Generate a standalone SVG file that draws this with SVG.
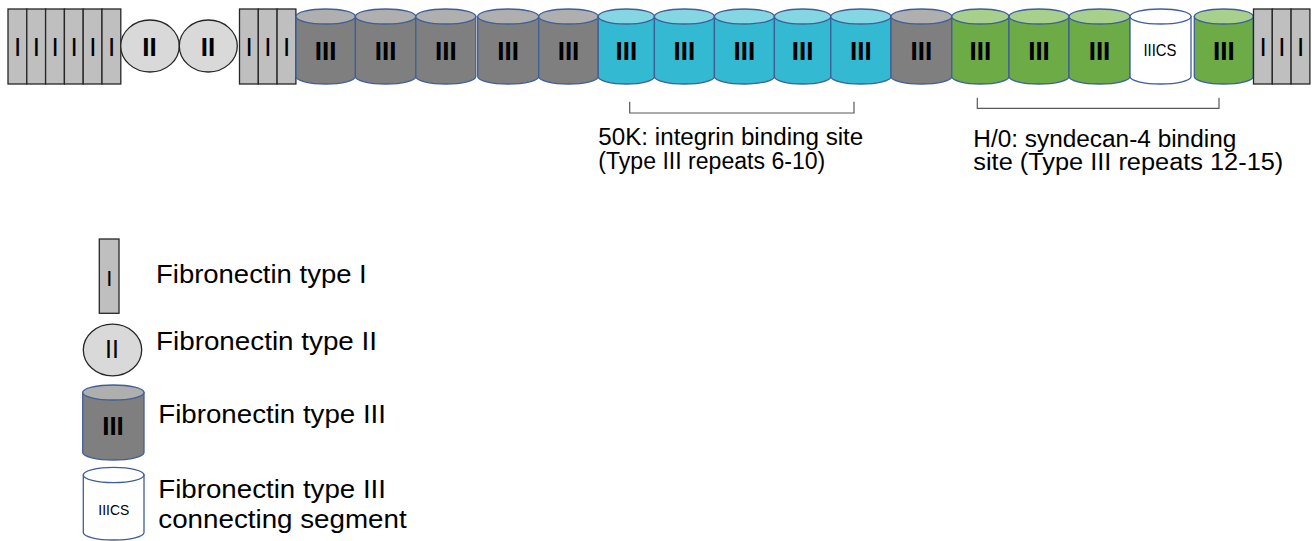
<svg xmlns="http://www.w3.org/2000/svg" width="1312" height="541" viewBox="0 0 1312 541">
<style>
.t1{fill:#bfbfbf;stroke:#262626;stroke-width:1.3}
.t2{fill:#d9d9d9;stroke:#262626;stroke-width:1.3}
.cs{stroke:#3f5f98;stroke-width:1.3}
.gb{fill:#7f7f7f}.gt{fill:#afafaf}
.cb{fill:#33bad2}.ct{fill:#85d6e3}
.nb{fill:#6cab46}.nt{fill:#a8d08d}
.wb{fill:#ffffff}.wt{fill:#ffffff}
.lab{font-family:"Liberation Sans",Arial,sans-serif;font-weight:bold;font-size:26px;fill:#000;text-anchor:middle}
.li{font-family:"Liberation Sans",Arial,sans-serif;font-size:26px;fill:#000;text-anchor:middle}
.sm{font-family:"Liberation Sans",Arial,sans-serif;fill:#000;text-anchor:middle}
.txt{font-family:"Liberation Sans",Arial,sans-serif;fill:#000}
.br{fill:none;stroke:#595959;stroke-width:1.2}
</style>

<!-- N-terminal type I repeats -->
<g id="typeI-1"><rect class="t1" x="8" y="9" width="18.8" height="75"/><text class="li" x="17.6" y="56">I</text></g>
<g id="typeI-2"><rect class="t1" x="26.8" y="9" width="18.8" height="75"/><text class="li" x="36.4" y="56">I</text></g>
<g id="typeI-3"><rect class="t1" x="45.6" y="9" width="18.8" height="75"/><text class="li" x="55.2" y="56">I</text></g>
<g id="typeI-4"><rect class="t1" x="64.4" y="9" width="18.8" height="75"/><text class="li" x="74" y="56">I</text></g>
<g id="typeI-5"><rect class="t1" x="83.2" y="9" width="18.8" height="75"/><text class="li" x="92.8" y="56">I</text></g>
<g id="typeI-6"><rect class="t1" x="102" y="9" width="18.8" height="75"/><text class="li" x="111.6" y="56">I</text></g>

<g id="typeII-1"><ellipse class="t2" cx="150" cy="46" rx="29.3" ry="26"/><text class="lab" x="149.5" y="56">II</text></g>
<g id="typeII-2"><ellipse class="t2" cx="208.3" cy="46" rx="29" ry="26"/><text class="lab" x="208" y="56">II</text></g>

<g id="typeI-7"><rect class="t1" x="239.5" y="9" width="18.8" height="75"/><text class="li" x="249" y="56">I</text></g>
<g id="typeI-8"><rect class="t1" x="258.3" y="9" width="18.8" height="75"/><text class="li" x="267.8" y="56">I</text></g>
<g id="typeI-9"><rect class="t1" x="277.1" y="9" width="18.8" height="75"/><text class="li" x="286.6" y="56">I</text></g>

<!-- Type III repeats -->
<g id="typeIII-1"><path class="cs gb" d="M296,16.5 V76.5 A29.7,7.5 0 0 0 355.4,76.5 V16.5 Z"/><ellipse class="cs gt" cx="325.7" cy="16.5" rx="29.7" ry="7.5"/><text class="lab" x="325.7" y="59.5">III</text></g>
<g id="typeIII-2"><path class="cs gb" d="M355.4,16.5 V76.5 A30.2,7.5 0 0 0 415.8,76.5 V16.5 Z"/><ellipse class="cs gt" cx="385.6" cy="16.5" rx="30.2" ry="7.5"/><text class="lab" x="385.6" y="59.5">III</text></g>
<g id="typeIII-3"><path class="cs gb" d="M415.8,16.5 V76.5 A30,7.5 0 0 0 475.8,76.5 V16.5 Z"/><ellipse class="cs gt" cx="445.8" cy="16.5" rx="30" ry="7.5"/><text class="lab" x="445.8" y="59.5">III</text></g>
<g id="typeIII-4"><path class="cs gb" d="M477.7,16.5 V76.5 A30.5,7.5 0 0 0 538.7,76.5 V16.5 Z"/><ellipse class="cs gt" cx="508.2" cy="16.5" rx="30.5" ry="7.5"/><text class="lab" x="508.2" y="59.5">III</text></g>
<g id="typeIII-5"><path class="cs gb" d="M538.7,16.5 V76.5 A29.8,7.5 0 0 0 598.3,76.5 V16.5 Z"/><ellipse class="cs gt" cx="568.5" cy="16.5" rx="29.8" ry="7.5"/><text class="lab" x="568.5" y="59.5">III</text></g>
<g id="typeIII-6"><path class="cs cb" d="M598.2,16.5 V76.5 A28.1,7.5 0 0 0 654.4,76.5 V16.5 Z"/><ellipse class="cs ct" cx="626.3" cy="16.5" rx="28.1" ry="7.5"/><text class="lab" x="626.3" y="59.5">III</text></g>
<g id="typeIII-7"><path class="cs cb" d="M654.4,16.5 V76.5 A30,7.5 0 0 0 714.4,76.5 V16.5 Z"/><ellipse class="cs ct" cx="684.4" cy="16.5" rx="30" ry="7.5"/><text class="lab" x="684.4" y="59.5">III</text></g>
<g id="typeIII-8"><path class="cs cb" d="M714.4,16.5 V76.5 A30,7.5 0 0 0 774.4,76.5 V16.5 Z"/><ellipse class="cs ct" cx="744.4" cy="16.5" rx="30" ry="7.5"/><text class="lab" x="744.4" y="59.5">III</text></g>
<g id="typeIII-9"><path class="cs cb" d="M774.4,16.5 V76.5 A28.2,7.5 0 0 0 830.8,76.5 V16.5 Z"/><ellipse class="cs ct" cx="802.6" cy="16.5" rx="28.2" ry="7.5"/><text class="lab" x="802.6" y="59.5">III</text></g>
<g id="typeIII-10"><path class="cs cb" d="M830.8,16.5 V76.5 A30.1,7.5 0 0 0 891,76.5 V16.5 Z"/><ellipse class="cs ct" cx="860.9" cy="16.5" rx="30.1" ry="7.5"/><text class="lab" x="860.9" y="59.5">III</text></g>
<g id="typeIII-11"><path class="cs gb" d="M891,16.5 V76.5 A30.4,7.5 0 0 0 951.8,76.5 V16.5 Z"/><ellipse class="cs gt" cx="921.4" cy="16.5" rx="30.4" ry="7.5"/><text class="lab" x="921.4" y="59.5">III</text></g>
<g id="typeIII-12"><path class="cs nb" d="M951.8,16.5 V76.5 A28.6,7.5 0 0 0 1009,76.5 V16.5 Z"/><ellipse class="cs nt" cx="980.4" cy="16.5" rx="28.6" ry="7.5"/><text class="lab" x="980.4" y="59.5">III</text></g>
<g id="typeIII-13"><path class="cs nb" d="M1009,16.5 V76.5 A30,7.5 0 0 0 1069,76.5 V16.5 Z"/><ellipse class="cs nt" cx="1039" cy="16.5" rx="30" ry="7.5"/><text class="lab" x="1039" y="59.5">III</text></g>
<g id="typeIII-14"><path class="cs nb" d="M1069,16.5 V76.5 A30.5,7.5 0 0 0 1130,76.5 V16.5 Z"/><ellipse class="cs nt" cx="1099.5" cy="16.5" rx="30.5" ry="7.5"/><text class="lab" x="1099.5" y="59.5">III</text></g>
<g id="IIICS"><path class="cs wb" d="M1130,16.5 V76.5 A30.5,7.5 0 0 0 1191,76.5 V16.5 Z"/><ellipse class="cs wt" cx="1160.5" cy="16.5" rx="30.5" ry="7.5"/><text class="sm" x="1160" y="56" font-size="17" textLength="33" lengthAdjust="spacingAndGlyphs">IIICS</text></g>
<g id="typeIII-15"><path class="cs nb" d="M1194.3,16.5 V76.5 A29.5,7.5 0 0 0 1253.3,76.5 V16.5 Z"/><ellipse class="cs nt" cx="1223.8" cy="16.5" rx="29.5" ry="7.5"/><text class="lab" x="1223.8" y="59.5">III</text></g>

<!-- C-terminal type I repeats -->
<g id="typeI-10"><rect class="t1" x="1253.5" y="9" width="18.8" height="75"/><text class="li" x="1263" y="56">I</text></g>
<g id="typeI-11"><rect class="t1" x="1272.3" y="9" width="18.8" height="75"/><text class="li" x="1281.8" y="56">I</text></g>
<g id="typeI-12"><rect class="t1" x="1291.1" y="9" width="18.8" height="75"/><text class="li" x="1300.6" y="56">I</text></g>

<!-- brackets -->
<g id="brackets">
<path class="br" d="M629.7,101.7 V113 H854 V101.7"/>
<path class="br" d="M977.3,97.7 V108.3 H1219 V97.7"/>
</g>

<g id="label-50K">
<text class="txt" x="598.3" y="144.5" font-size="23" textLength="265" lengthAdjust="spacingAndGlyphs">50K: integrin binding site</text>
<text class="txt" x="598.3" y="168.5" font-size="23" textLength="227" lengthAdjust="spacingAndGlyphs">(Type III repeats 6-10)</text>
</g>
<g id="label-H0">
<text class="txt" x="973.3" y="146.5" font-size="23" textLength="263" lengthAdjust="spacingAndGlyphs">H/0: syndecan-4 binding</text>
<text class="txt" x="973.3" y="170" font-size="23" textLength="310" lengthAdjust="spacingAndGlyphs">site (Type III repeats 12-15)</text>
</g>

<!-- Legend -->
<g id="legend-typeI">
<rect class="t1" x="99.3" y="239" width="19.7" height="74.3"/>
<text class="sm" x="109.2" y="286" font-size="22">I</text>
<text class="txt" x="156" y="283.3" font-size="26" textLength="210.7" lengthAdjust="spacingAndGlyphs">Fibronectin type I</text>
</g>
<g id="legend-typeII">
<ellipse class="t2" cx="112.5" cy="350" rx="29.2" ry="25.8"/>
<text class="sm" x="112" y="357.5" font-size="25">II</text>
<text class="txt" x="156" y="350" font-size="26" textLength="221" lengthAdjust="spacingAndGlyphs">Fibronectin type II</text>
</g>
<g id="legend-typeIII">
<path class="cs gb" d="M82.7,392.5 V452.5 A30.65,7.5 0 0 0 144,452.5 V392.5 Z"/>
<ellipse class="cs gt" cx="113.35" cy="392.5" rx="30.65" ry="7.5"/>
<text class="lab" x="113" y="435" font-size="24">III</text>
<text class="txt" x="158.3" y="423.3" font-size="26" textLength="227.7" lengthAdjust="spacingAndGlyphs">Fibronectin type III</text>
</g>
<g id="legend-IIICS">
<path class="cs wb" d="M83.3,475 V532.5 A30.35,7.5 0 0 0 144,532.5 V475 Z"/>
<ellipse class="cs wt" cx="113.65" cy="475" rx="30.35" ry="7.7"/>
<text class="sm" x="113.8" y="515" font-size="15" textLength="31" lengthAdjust="spacingAndGlyphs">IIICS</text>
<text class="txt" x="158.3" y="498.3" font-size="26" textLength="227.7" lengthAdjust="spacingAndGlyphs">Fibronectin type III</text>
<text class="txt" x="158.3" y="528.3" font-size="26" textLength="248.4" lengthAdjust="spacingAndGlyphs">connecting segment</text>
</g>
</svg>
